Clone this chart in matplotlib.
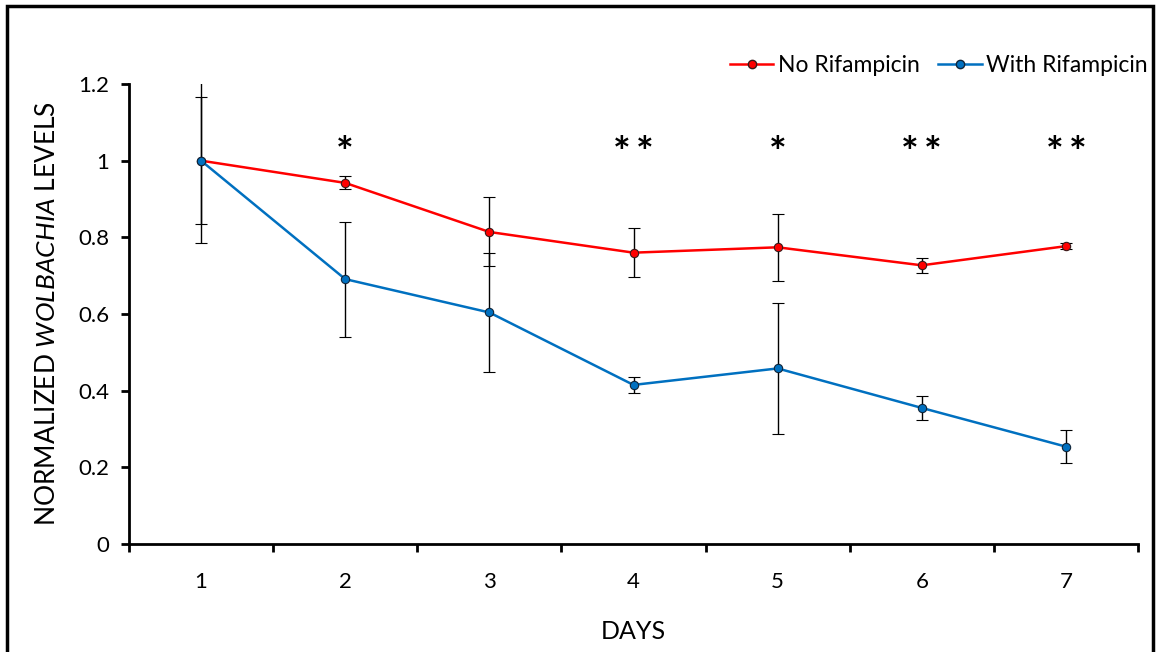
import matplotlib
matplotlib.use("Agg")
import matplotlib.pyplot as plt
from matplotlib.lines import Line2D
from matplotlib.patches import Rectangle

plt.rcParams['font.family'] = ['Lato', 'DejaVu Sans']
plt.rcParams['mathtext.fontset'] = 'custom'
plt.rcParams['mathtext.rm'] = 'Lato'
plt.rcParams['mathtext.it'] = 'Lato:italic'

days = [1, 2, 3, 4, 5, 6, 7]
day_labels = ["1", "2", "3", "4", "5", "6", "7"]
no_rif = [1.0, 0.942, 0.814, 0.760, 0.774, 0.727, 0.777]
no_rif_err = [0.165, 0.017, 0.090, 0.064, 0.087, 0.019, 0.008]
with_rif = [1.0, 0.691, 0.604, 0.415, 0.458, 0.355, 0.254]
with_rif_err = [0.215, 0.150, 0.155, 0.020, 0.171, 0.032, 0.043]
sig_days = [2, 4, 5, 6, 7]
sig_marks = ["*", "*\u2009*", "*", "*\u2009*", "*\u2009*"]
yticks = [0, 0.2, 0.4, 0.6, 0.8, 1.0, 1.2]
ytick_labels = ["0", "0.2", "0.4", "0.6", "0.8", "1", "1.2"]

red = "#FF0000"
blue = "#0070C0"

fig = plt.figure(figsize=(11.56, 6.52), dpi=100)
ax = fig.add_axes([129/1156, 1-544/652, (1138-129)/1156, (544-84)/652])

ax.errorbar(days, no_rif, yerr=no_rif_err, color=red, lw=1.8, marker='o',
            ms=6, mfc=red, mec='#3a1a1a', mew=0.8, ecolor='black', elinewidth=1,
            capsize=4, capthick=1, zorder=3)
ax.errorbar(days, with_rif, yerr=with_rif_err, color=blue, lw=1.8, marker='o',
            ms=6, mfc=blue, mec='#10253a', mew=0.8, ecolor='black', elinewidth=1,
            capsize=4, capthick=1, zorder=4)

for d, m in zip(sig_days, sig_marks):
    ax.text(d, 1.015, m, ha='center', va='center', fontsize=30, fontweight='bold',
            family=['Lato', 'DejaVu Sans'])

ax.set_xlim(0.5, 7.5)
ax.set_ylim(0, 1.2)
ax.set_xticks(days)
ax.set_xticklabels(day_labels, fontsize=16)
ax.set_xticks([0.5 + k for k in range(8)], minor=True)
ax.tick_params(axis='x', which='major', length=0, pad=20)
ax.tick_params(axis='x', which='minor', length=6, width=2, direction='out')
ax.set_yticks(yticks)
ax.set_yticklabels(ytick_labels, fontsize=16)
ax.tick_params(axis='y', length=6, width=2, direction='out', pad=8)
for s in ['top', 'right']:
    ax.spines[s].set_visible(False)
for s in ['left', 'bottom']:
    ax.spines[s].set_linewidth(2)

ax.set_xlabel("DAYS", fontsize=18, labelpad=20)
ax.set_ylabel(r"NORMALIZED $\it{WOLBACHIA}$ LEVELS", fontsize=19, labelpad=13)

handles = [
    Line2D([], [], color=red, lw=1.8, marker='o', ms=6, mfc=red, mec='#3a1a1a'),
    Line2D([], [], color=blue, lw=1.8, marker='o', ms=6, mfc=blue, mec='#10253a'),
]
fig.legend(handles, ["No Rifampicin", "With Rifampicin"], loc='center right',
           bbox_to_anchor=(1148/1156, 1-66/652), ncol=2, frameon=False,
           fontsize=16.5, handlelength=1.9, handletextpad=0.2, columnspacing=0.8,
           borderaxespad=0, borderpad=0)

fig.patches.append(Rectangle((7/1156, -0.05), (1153-7)/1156, 1.05 - 6/652,
                             transform=fig.transFigure, fill=False,
                             edgecolor='black', lw=2.5))

fig.savefig("out.png", dpi=100)
